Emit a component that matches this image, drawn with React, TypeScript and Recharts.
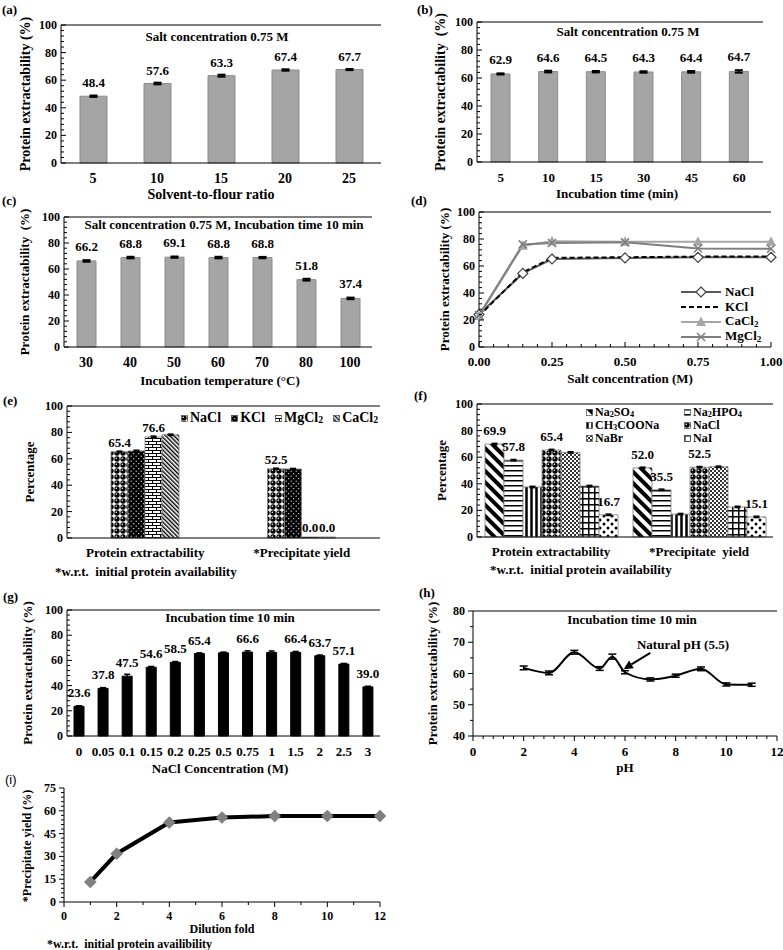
import React from 'react';
import { BarChart, Bar, LineChart, Line, XAxis, YAxis, ErrorBar, LabelList, Legend, ReferenceLine } from 'recharts';

const FONT = '"Liberation Serif", "Times New Roman", Times, serif';
const BOLD: React.CSSProperties = { fontFamily: FONT, fontWeight: 700 };
const AX = { stroke: '#000', strokeWidth: 1 };

// ---------- (a) solvent-to-flour ratio ----------
const ratioCats = ['5', '10', '15', '20', '25'];
const ratioVals = [48.4, 57.6, 63.3, 67.4, 67.7];
const ratioErr = [0.5, 0.6, 0.7, 0.5, 0.4];
// ---------- (b) incubation time ----------
const timeCats = ['5', '10', '15', '30', '45', '60'];
const timeVals = [62.9, 64.6, 64.5, 64.3, 64.4, 64.7];
const timeErr = [0.4, 0.6, 0.5, 0.5, 0.6, 0.9];
// ---------- (c) incubation temperature ----------
const tempCats = ['30', '40', '50', '60', '70', '80', '100'];
const tempVals = [66.2, 68.8, 69.1, 68.8, 68.8, 51.8, 37.4];
const tempErr = [0.6, 0.6, 0.5, 0.6, 0.5, 0.7, 0.6];
// ---------- (d) salt concentration ----------
const saltConc = [0, 0.15, 0.25, 0.5, 0.75, 1.0];
const dNaCl = [24.0, 54.5, 65.2, 66.0, 66.4, 66.5];
const dKCl = [23.0, 55.3, 66.0, 66.5, 67.0, 67.0];
const dCaCl2 = [23.0, 75.0, 78.3, 78.0, 78.0, 78.0];
const dMgCl2 = [23.5, 76.0, 77.0, 77.5, 73.0, 72.8];
// ---------- (e) chloride salts ----------
const eCats = ['Protein extractability', '*Precipitate yield'];
const eNaCl = [65.4, 52.5];
const eKCl = [66.0, 52.3];
const eMgCl2 = [76.6, 0.0];
const eCaCl2 = [78.2, 0.0];
const eNaClErr = [0.4, 0.4];
const eKClErr = [0.5, 0.4];
const eMgCl2Err = [0.6, 0];
const eCaCl2Err = [0.5, 0];
const eNaClShow = [true, true];
const eKClShow = [false, false];
const eMgCl2Show = [true, true];
const eCaCl2Show = [false, true];
// ---------- (f) sodium salts ----------
const fCats = ['Protein extractability', '*Precipitate  yield'];
const fNa2SO4 = [69.9, 52.0];
const fNa2HPO4 = [57.8, 35.5];
const fCH3COONa = [37.6, 17.2];
const fNaCl = [65.4, 52.5];
const fNaBr = [63.6, 52.8];
const fNaI = [38.3, 22.6];
const fOther = [16.7, 15.1];
const fErr = [0.5, 0.5];
const fShowBoth = [true, true];
const fShowNone = [false, false];
// ---------- (g) NaCl concentration ----------
const gCats = ['0', '0.05', '0.1', '0.15', '0.2', '0.25', '0.5', '0.75', '1', '1.5', '2', '2.5', '3'];
const gVals = [23.6, 37.8, 47.5, 54.6, 58.5, 65.4, 66.0, 66.6, 66.3, 66.4, 63.7, 57.1, 39.0];
const gErr = [0.4, 0.6, 1.5, 0.6, 0.6, 0.6, 0.6, 1.0, 1.2, 0.7, 0.6, 0.5, 0.5];
const gShow = [true, true, true, true, true, true, false, true, false, true, true, true, true];
// ---------- (h) pH ----------
const pHs = [2, 3, 4, 5, 5.5, 6, 7, 8, 9, 10, 11];
const pHVals = [61.8, 60.2, 66.8, 61.6, 65.4, 60.4, 58.1, 59.3, 61.5, 56.5, 56.4];
const pHErr = [0.6, 0.6, 0.6, 0.6, 0.8, 0.5, 0.5, 0.5, 0.6, 0.5, 0.5];
const arrowFrom = { x: 7.0, y: 66.6 };
const arrowTo = { x: 5.95, y: 61.4 };
// ---------- (i) dilution ----------
const dilFold = [1, 2, 4, 6, 8, 10, 12];
const dilVals = [13.2, 31.8, 52.3, 55.6, 56.5, 56.6, 56.6];

// ---------- helpers ----------
type Box = { x: number; y: number; w: number; h: number };
type Plot = { l: number; r: number; t: number; b: number };
const mk = (box: Box, plot: Plot, yw: number, xh: number) => ({
  top: plot.t - box.y,
  left: plot.l - box.x - yw,
  right: box.x + box.w - plot.r,
  bottom: box.y + box.h - plot.b - xh,
});
function range(a: number, b: number, step: number): number[] {
  const out: number[] = [];
  const n = Math.round((b - a) / step);
  for (let i = 0; i <= n; i++) out.push(Math.round((a + i * step) * 1000) / 1000);
  return out;
}
const isIn = (v: number, arr: number[]) => arr.some((m) => Math.abs(m - v) < 1e-6);

function yTick(majors: number[], fs: number, inside: boolean, fmt = (v: number) => String(v)) {
  return (p: any) => {
    const { x, y, payload } = p;
    const v = payload.value;
    const major = isIn(v, majors);
    const len = major ? 5 : 3;
    const dir = inside ? 1 : -1;
    return (
      <g>
        <line x1={x} y1={y} x2={x + dir * len} y2={y} stroke="#000" strokeWidth={1} />
        {major && (
          <text x={x - (inside ? 4 : len + 3)} y={y} dy="0.34em" textAnchor="end" fontSize={fs} fill="#000" style={BOLD}>
            {fmt(v)}
          </text>
        )}
      </g>
    );
  };
}
function xNumTick(majors: number[], fs: number, dy: number, inside: boolean, fmt: (v: number) => string) {
  return (p: any) => {
    const { x, y, payload } = p;
    const v = payload.value;
    const major = isIn(v, majors);
    const len = major ? 5 : 3;
    const dir = inside ? -1 : 1;
    return (
      <g>
        <line x1={x} y1={y} x2={x} y2={y + dir * len} stroke="#000" strokeWidth={1} />
        {major && (
          <text x={x} y={y + dy} textAnchor="middle" fontSize={fs} fill="#000" style={BOLD}>
            {fmt(v)}
          </text>
        )}
      </g>
    );
  };
}
function xCatTick(fs: number, dy: number) {
  return (p: any) => (
    <text x={p.x} y={p.y + dy} textAnchor="middle" fontSize={fs} fill="#000" style={{ ...BOLD, whiteSpace: 'pre' }}>
      {p.payload.value}
    </text>
  );
}
function barLabel(show: boolean[] | null, fs: number, gap: number) {
  return (p: any) => {
    const vb = p.viewBox || {};
    const x = p.x ?? vb.x;
    const y = p.y ?? vb.y;
    const w = p.width ?? vb.width ?? 0;
    const idx = p.index;
    if (show && !show[idx]) return null;
    return (
      <text key={idx} x={x + w / 2} y={y - gap} textAnchor="middle" fontSize={fs} fill="#000" style={BOLD}>
        {Number(p.value).toFixed(1)}
      </text>
    );
  };
}
const YTitle = ({ text, cx, cy, fs }: { text: string; cx: number; cy: number; fs: number }) => (
  <text x={cx} y={cy} dy="0.33em" transform={`rotate(-90 ${cx} ${cy})`} textAnchor="middle" fontSize={fs} fill="#000" style={{ ...BOLD, whiteSpace: 'pre' }}>
    {text}
  </text>
);
const TText = ({ text, x, y, fs, anchor = 'middle' }: { text: string; x: number; y: number; fs: number; anchor?: any }) => (
  <text x={x} y={y} textAnchor={anchor} fontSize={fs} fill="#000" style={{ ...BOLD, whiteSpace: 'pre' }}>
    {text}
  </text>
);
const chem = (s: string) =>
  s
    .split(/(\d+)/)
    .filter(Boolean)
    .map((part, i) =>
      /^\d+$/.test(part) ? (
        <span key={i} style={{ fontSize: '0.7em', position: 'relative', top: '0.22em' }}>
          {part}
        </span>
      ) : (
        <React.Fragment key={i}>{part}</React.Fragment>
      )
    );

const Y100 = range(0, 100, 4);
const Y100_MAJ = [0, 20, 40, 60, 80, 100];

// ---------- patterns ----------
const PatternDefs = () => (
  <defs>
    <pattern id="pat-sphere" width="6" height="6" patternUnits="userSpaceOnUse">
      <rect width="6" height="6" fill="#fff" />
      <circle cx="3" cy="3" r="2.7" fill="#000" />
      <circle cx="2.3" cy="2.3" r="0.8" fill="#fff" />
    </pattern>
    <pattern id="pat-blackdots" width="5" height="5" patternUnits="userSpaceOnUse">
      <rect width="5" height="5" fill="#000" />
      <circle cx="1.2" cy="1.2" r="0.6" fill="#fff" />
      <circle cx="3.7" cy="3.7" r="0.6" fill="#fff" />
    </pattern>
    <pattern id="pat-brick" width="8" height="6" patternUnits="userSpaceOnUse">
      <rect width="8" height="6" fill="#fff" />
      <path d="M0 0.5H8M0 3.5H8M0.5 0.5V3.5M4.5 3.5V6" stroke="#000" strokeWidth="1" />
    </pattern>
    <pattern id="pat-diag-thin" width="3" height="3" patternUnits="userSpaceOnUse" patternTransform="rotate(-45)">
      <rect width="3" height="3" fill="#fff" />
      <line x1="0.7" y1="0" x2="0.7" y2="3" stroke="#000" strokeWidth="1.4" />
    </pattern>
    <pattern id="pat-diag-wide" width="8" height="8" patternUnits="userSpaceOnUse" patternTransform="rotate(-45)">
      <rect width="8" height="8" fill="#fff" />
      <line x1="2" y1="0" x2="2" y2="8" stroke="#000" strokeWidth="4" />
    </pattern>
    <pattern id="pat-horiz" width="5" height="5" patternUnits="userSpaceOnUse">
      <rect width="5" height="5" fill="#fff" />
      <line x1="0" y1="0.75" x2="5" y2="0.75" stroke="#000" strokeWidth="1.5" />
    </pattern>
    <pattern id="pat-vert" width="5" height="5" patternUnits="userSpaceOnUse">
      <rect width="5" height="5" fill="#fff" />
      <line x1="1.5" y1="0" x2="1.5" y2="5" stroke="#000" strokeWidth="2.5" />
    </pattern>
    <pattern id="pat-check" width="4" height="4" patternUnits="userSpaceOnUse">
      <rect width="4" height="4" fill="#fff" />
      <rect x="0" y="0" width="2" height="2" fill="#333" />
      <rect x="2" y="2" width="2" height="2" fill="#333" />
    </pattern>
    <pattern id="pat-grid" width="6" height="6" patternUnits="userSpaceOnUse">
      <rect width="6" height="6" fill="#fff" />
      <path d="M0 0.75H6M0.75 0V6" stroke="#000" strokeWidth="1.5" />
    </pattern>
    <pattern id="pat-bigdots" width="8" height="8" patternUnits="userSpaceOnUse">
      <rect width="8" height="8" fill="#fff" />
      <circle cx="2" cy="2" r="1.5" fill="#000" />
      <circle cx="6" cy="6" r="1.5" fill="#000" />
    </pattern>
  </defs>
);

// ---------- simple grey/black bar panel ----------
type SBP = {
  box: Box; plot: Plot; cats: string[]; vals: number[]; errs: number[]; show?: boolean[];
  barSize: number; fill: string; stroke: string; errW: number; errSW: number;
  xtickFs: number; xtickDy: number; labelFs: number; labelGap: number;
  title?: { text: string; x: number; y: number };
  ytitle: { text: string; x: number; fs: number };
  xtitle: { text: string; x: number; y: number; fs: number };
};
function SimpleBarPanel(p: SBP) {
  const { box, plot } = p;
  const yw = 40, xh = 30;
  const data = p.cats.map((c, i) => ({ cat: c, v: p.vals[i], e: p.errs[i] }));
  const ox = box.x, oy = box.y;
  return (
    <div style={{ position: 'absolute', left: box.x, top: box.y }}>
      <BarChart width={box.w} height={box.h} data={data} margin={mk(box, plot, yw, xh)}>
        <XAxis dataKey="cat" height={xh} interval={0} tickSize={0} tickMargin={0} tickLine={false} axisLine={AX} tick={xCatTick(p.xtickFs, p.xtickDy)} />
        <YAxis width={yw} domain={[0, 100]} ticks={Y100} interval={0} tickSize={0} tickMargin={0} tickLine={false} axisLine={AX} tick={yTick(Y100_MAJ, 12, true)} />
        <YAxis yAxisId="r" orientation="right" width={0} tick={false} tickLine={false} axisLine={AX} />
        <ReferenceLine y={100} stroke="#000" strokeWidth={1} />
        <Bar dataKey="v" fill={p.fill} stroke={p.stroke} strokeWidth={1} barSize={p.barSize} isAnimationActive={false}>
          <ErrorBar dataKey="e" width={p.errW} strokeWidth={p.errSW} stroke="#000" direction="y" />
          <LabelList dataKey="v" content={barLabel(p.show ?? null, p.labelFs, p.labelGap)} />
        </Bar>
        {p.title && <TText text={p.title.text} x={p.title.x - ox} y={p.title.y - oy} fs={13} />}
        <YTitle text={p.ytitle.text} cx={p.ytitle.x - ox} cy={(plot.t + plot.b) / 2 - oy} fs={p.ytitle.fs} />
        <TText text={p.xtitle.text} x={p.xtitle.x - ox} y={p.xtitle.y - oy} fs={p.xtitle.fs} />
      </BarChart>
    </div>
  );
}

// ---------- (d) ----------
const dSeries = [
  { key: 'NaCl', vals: dNaCl, color: '#595959', dash: undefined as string | undefined, marker: 'diamond' },
  { key: 'KCl', vals: dKCl, color: '#000000', dash: '5 3', marker: 'none' },
  { key: 'CaCl2', vals: dCaCl2, color: '#a6a6a6', dash: undefined, marker: 'triangle' },
  { key: 'MgCl2', vals: dMgCl2, color: '#7f7f7f', dash: undefined, marker: 'x' },
];
function marker(kind: string, cx: number, cy: number, key?: any) {
  if (cx == null || cy == null) return <g key={key} />;
  switch (kind) {
    case 'diamond':
      return <polygon key={key} points={`${cx},${cy - 5} ${cx + 5},${cy} ${cx},${cy + 5} ${cx - 5},${cy}`} fill="#fff" stroke="#404040" strokeWidth={1.2} />;
    case 'triangle':
      return <polygon key={key} points={`${cx},${cy - 5.5} ${cx + 5},${cy + 4} ${cx - 5},${cy + 4}`} fill="#a6a6a6" />;
    case 'x':
      return <path key={key} d={`M${cx - 4},${cy - 4}L${cx + 4},${cy + 4}M${cx - 4},${cy + 4}L${cx + 4},${cy - 4}`} stroke="#7f7f7f" strokeWidth={1.6} />;
    default:
      return <g key={key} />;
  }
}
const dLegend = (props: any) => {
  const names = new Set((props.payload || []).map((it: any) => String(it.value)));
  return (
    <div style={{ ...BOLD, fontSize: 13, lineHeight: '15px' }}>
      {dSeries.filter((s) => names.size === 0 || names.has(s.key)).map((s) => (
        <div key={s.key} style={{ display: 'flex', alignItems: 'center', height: 15, whiteSpace: 'nowrap' }}>
          <svg width={42} height={14} style={{ marginRight: 3 }}>
            <line x1={1} x2={41} y1={7} y2={7} stroke={s.color} strokeWidth={2} strokeDasharray={s.dash} />
            {marker(s.marker, 21, 7)}
          </svg>
          <span>{chem(s.key)}</span>
        </div>
      ))}
    </div>
  );
};
function PanelD() {
  const box = { x: 390, y: 195, w: 393, h: 200 };
  const plot = { l: 479, r: 771, t: 212, b: 347 };
  const yw = 40, xh = 30;
  const data = saltConc.map((x, i) => {
    const row: any = { x };
    dSeries.forEach((s) => (row[s.key] = s.vals[i]));
    return row;
  });
  const ox = box.x, oy = box.y;
  return (
    <div style={{ position: 'absolute', left: box.x, top: box.y }}>
      <LineChart width={box.w} height={box.h} data={data} margin={mk(box, plot, yw, xh)}>
        <XAxis dataKey="x" type="number" domain={[0, 1]} ticks={range(0, 1, 0.05)} interval={0} height={xh} tickSize={0} tickMargin={0} tickLine={false} axisLine={AX}
          tick={xNumTick([0, 0.25, 0.5, 0.75, 1], 13, 18.5, true, (v) => v.toFixed(2))} />
        <YAxis width={yw} domain={[0, 100]} ticks={Y100} interval={0} tickSize={0} tickMargin={0} tickLine={false} axisLine={AX} tick={yTick(Y100_MAJ, 12, true)} />
        <YAxis yAxisId="r" orientation="right" width={0} tick={false} tickLine={false} axisLine={AX} />
        <ReferenceLine y={100} stroke="#000" strokeWidth={1} />
        {dSeries.map((s) => (
          <Line key={s.key} dataKey={s.key} name={s.key} type="linear" stroke={s.color} strokeWidth={2} strokeDasharray={s.dash} isAnimationActive={false}
            dot={s.marker === 'none' ? false : (pp: any) => marker(s.marker, pp.cx, pp.cy, pp.index)} activeDot={false} />
        ))}
        <Legend layout="vertical" align="center" verticalAlign="middle" content={dLegend}
          wrapperStyle={{ left: 680 - ox, top: 284 - oy, right: 'auto', bottom: 'auto', width: 'auto', height: 'auto' }} />
        <YTitle text="Protein extractability (%)" cx={445 - ox} cy={(plot.t + plot.b) / 2 - oy} fs={13} />
        <TText text="Salt concentration (M)" x={630 - ox} y={382.5 - oy} fs={13} />
      </LineChart>
    </div>
  );
}

// ---------- (e) ----------
const eSeries = [
  { key: 'NaCl', vals: eNaCl, err: eNaClErr, show: eNaClShow, fill: 'url(#pat-sphere)' },
  { key: 'KCl', vals: eKCl, err: eKClErr, show: eKClShow, fill: 'url(#pat-blackdots)' },
  { key: 'MgCl2', vals: eMgCl2, err: eMgCl2Err, show: eMgCl2Show, fill: 'url(#pat-brick)' },
  { key: 'CaCl2', vals: eCaCl2, err: eCaCl2Err, show: eCaCl2Show, fill: 'url(#pat-diag-thin)' },
];
const eLegend = (props: any) => {
  const names = new Set((props.payload || []).map((it: any) => String(it.value)));
  return (
    <div style={{ display: 'flex', alignItems: 'center', ...BOLD, fontSize: 14, lineHeight: '14px', whiteSpace: 'nowrap' }}>
      {eSeries.filter((s) => names.size === 0 || names.has(s.key)).map((s) => (
        <span key={s.key} style={{ display: 'inline-flex', alignItems: 'center', marginRight: 10 }}>
          <svg width={7} height={7} style={{ marginRight: 2 }}>
            <rect x={0.5} y={0.5} width={6} height={6} fill={s.fill} stroke="#333" strokeWidth={0.6} />
          </svg>
          {chem(s.key)}
        </span>
      ))}
    </div>
  );
};
function PanelE() {
  const box = { x: 0, y: 390, w: 390, h: 195 };
  const plot = { l: 67, r: 380, t: 406, b: 538 };
  const yw = 40, xh = 30;
  const data = eCats.map((c, i) => {
    const row: any = { cat: c };
    eSeries.forEach((s) => {
      row[s.key] = s.vals[i];
      row[s.key + '_e'] = s.err[i];
    });
    return row;
  });
  const ox = box.x, oy = box.y;
  return (
    <div style={{ position: 'absolute', left: box.x, top: box.y }}>
      <BarChart width={box.w} height={box.h} data={data} margin={mk(box, plot, yw, xh)} barGap={0}>
        <XAxis dataKey="cat" height={xh} interval={0} tickSize={0} tickMargin={0} tickLine={false} axisLine={AX} tick={xCatTick(13, 19)} />
        <YAxis width={yw} domain={[0, 100]} ticks={Y100} interval={0} tickSize={0} tickMargin={0} tickLine={false} axisLine={AX} tick={yTick(Y100_MAJ, 12, true)} />
        <YAxis yAxisId="r" orientation="right" width={0} tick={false} tickLine={false} axisLine={AX} />
        <ReferenceLine y={100} stroke="#000" strokeWidth={1} />
        {eSeries.map((s) => (
          <Bar key={s.key} dataKey={s.key} name={s.key} fill={s.fill} stroke="#7f7f7f" strokeWidth={0.8} barSize={17} minPointSize={1} isAnimationActive={false}>
            <ErrorBar dataKey={s.key + '_e'} width={3} strokeWidth={1.5} stroke="#000" direction="y" />
            <LabelList dataKey={s.key} content={barLabel(s.show, 13, 5)} />
          </Bar>
        ))}
        <Legend layout="vertical" align="center" verticalAlign="middle" content={eLegend}
          wrapperStyle={{ left: 181 - ox, top: 411 - oy, right: 'auto', bottom: 'auto', width: 'auto', height: 'auto' }} />
        <YTitle text="Percentage" cx={30 - ox} cy={(plot.t + plot.b) / 2 - oy} fs={13} />
        <TText text="*w.r.t.  initial protein availability" x={55 - ox} y={576 - oy} fs={13} anchor="start" />
      </BarChart>
    </div>
  );
}

// ---------- (f) ----------
const fSeries = [
  { key: 'Na2SO4', vals: fNa2SO4, show: fShowBoth, fill: 'url(#pat-diag-wide)', legend: true },
  { key: 'Na2HPO4', vals: fNa2HPO4, show: fShowBoth, fill: 'url(#pat-horiz)', legend: true },
  { key: 'CH3COONa', vals: fCH3COONa, show: fShowNone, fill: 'url(#pat-vert)', legend: true },
  { key: 'NaCl', vals: fNaCl, show: fShowBoth, fill: 'url(#pat-sphere)', legend: true },
  { key: 'NaBr', vals: fNaBr, show: fShowNone, fill: 'url(#pat-check)', legend: true },
  { key: 'NaI', vals: fNaI, show: fShowNone, fill: 'url(#pat-grid)', legend: true },
  { key: 'Other', vals: fOther, show: fShowBoth, fill: 'url(#pat-bigdots)', legend: false },
];
const fLegend = (props: any) => {
  const names = new Set((props.payload || []).map((it: any) => String(it.value)));
  return (
    <div style={{ display: 'grid', gridTemplateColumns: '98px 90px', ...BOLD, fontSize: 12, lineHeight: '13px', whiteSpace: 'nowrap' }}>
      {fSeries.filter((s) => s.legend && (names.size === 0 || names.has(s.key))).map((s) => (
        <span key={s.key} style={{ display: 'inline-flex', alignItems: 'center', height: 13 }}>
          <svg width={7} height={7} style={{ marginRight: 2 }}>
            <rect x={0.5} y={0.5} width={6} height={6} fill={s.fill} stroke="#333" strokeWidth={0.6} />
          </svg>
          {chem(s.key)}
        </span>
      ))}
    </div>
  );
};
function PanelF() {
  const box = { x: 390, y: 390, w: 393, h: 195 };
  const plot = { l: 477, r: 773, t: 404, b: 537 };
  const yw = 40, xh = 30;
  const data = fCats.map((c, i) => {
    const row: any = { cat: c };
    fSeries.forEach((s) => {
      row[s.key] = s.vals[i];
      row[s.key + '_e'] = fErr[i];
    });
    return row;
  });
  const ox = box.x, oy = box.y;
  return (
    <div style={{ position: 'absolute', left: box.x, top: box.y }}>
      <BarChart width={box.w} height={box.h} data={data} margin={mk(box, plot, yw, xh)} barGap={0}>
        <XAxis dataKey="cat" height={xh} interval={0} tickSize={0} tickMargin={0} tickLine={false} axisLine={AX} tick={xCatTick(13, 19)} />
        <YAxis width={yw} domain={[0, 100]} ticks={Y100} interval={0} tickSize={0} tickMargin={0} tickLine={false} axisLine={AX} tick={yTick(Y100_MAJ, 12, true)} />
        <YAxis yAxisId="r" orientation="right" width={0} tick={false} tickLine={false} axisLine={AX} />
        <ReferenceLine y={100} stroke="#000" strokeWidth={1} />
        {fSeries.map((s) => (
          <Bar key={s.key} dataKey={s.key} name={s.key} fill={s.fill} stroke="#7f7f7f" strokeWidth={0.8} barSize={19} isAnimationActive={false}
            legendType={s.legend ? 'square' : 'none'}>
            <ErrorBar dataKey={s.key + '_e'} width={3} strokeWidth={1.5} stroke="#000" direction="y" />
            <LabelList dataKey={s.key} content={barLabel(s.show, 13, 9)} />
          </Bar>
        ))}
        <Legend layout="vertical" align="center" verticalAlign="middle" content={fLegend}
          wrapperStyle={{ left: 586 - ox, top: 406 - oy, right: 'auto', bottom: 'auto', width: 'auto', height: 'auto' }} />
        <YTitle text="Percentage" cx={442 - ox} cy={(plot.t + plot.b) / 2 - oy} fs={13} />
        <TText text="*w.r.t.  initial protein availability" x={490 - ox} y={574 - oy} fs={13} anchor="start" />
      </BarChart>
    </div>
  );
}

// ---------- (h) ----------
const arrowShape = (p: any) => {
  const { x1, y1, x2, y2 } = p;
  const a = Math.atan2(y2 - y1, x2 - x1);
  const L = 9, W = 4.5;
  const bx = x2 - L * Math.cos(a), by = y2 - L * Math.sin(a);
  const pts = `${x2},${y2} ${bx + W * Math.sin(a)},${by - W * Math.cos(a)} ${bx - W * Math.sin(a)},${by + W * Math.cos(a)}`;
  return (
    <g>
      <line x1={x1} y1={y1} x2={bx} y2={by} stroke="#000" strokeWidth={2} />
      <polygon points={pts} fill="#000" />
    </g>
  );
};
function PanelH() {
  const box = { x: 390, y: 585, w: 393, h: 195 };
  const plot = { l: 473, r: 777, t: 611, b: 736 };
  const yw = 40, xh = 30;
  const data = pHs.map((x, i) => ({ x, v: pHVals[i], e: pHErr[i] }));
  const ox = box.x, oy = box.y;
  return (
    <div style={{ position: 'absolute', left: box.x, top: box.y }}>
      <LineChart width={box.w} height={box.h} data={data} margin={mk(box, plot, yw, xh)}>
        <XAxis dataKey="x" type="number" domain={[0, 12]} ticks={range(0, 12, 0.4)} interval={0} height={xh} tickSize={0} tickMargin={0} tickLine={false} axisLine={AX}
          tick={xNumTick(range(0, 12, 2), 13, 19.5, false, (v) => String(v))} />
        <YAxis width={yw} domain={[40, 80]} ticks={range(40, 80, 5)} interval={0} tickSize={0} tickMargin={0} tickLine={false} axisLine={AX} tick={yTick(range(40, 80, 10), 12, false)} />
        <YAxis yAxisId="r" orientation="right" width={0} tick={false} tickLine={false} axisLine={AX} />
        <ReferenceLine y={80} stroke="#000" strokeWidth={1} />
        <Line dataKey="v" type="monotone" stroke="#000" strokeWidth={2} dot={false} activeDot={false} isAnimationActive={false}>
          <ErrorBar dataKey="e" width={4} strokeWidth={1.5} stroke="#000" direction="y" />
        </Line>
        <ReferenceLine segment={[arrowFrom, arrowTo]} shape={arrowShape} />
        <TText text="Incubation time 10 min" x={632 - ox} y={624 - oy} fs={13} />
        <TText text="Natural pH (5.5)" x={683 - ox} y={649 - oy} fs={13} />
        <YTitle text="Protein extractability (%)" cx={433 - ox} cy={(plot.t + plot.b) / 2 - oy} fs={13} />
        <TText text="pH" x={625 - ox} y={772 - oy} fs={13} />
      </LineChart>
    </div>
  );
}

// ---------- (i) ----------
function PanelI() {
  const box = { x: 0, y: 775, w: 390, h: 175 };
  const plot = { l: 64, r: 380, t: 788, b: 902 };
  const yw = 40, xh = 30;
  const data = dilFold.map((x, i) => ({ x, v: dilVals[i] }));
  const ox = box.x, oy = box.y;
  const diamond = (pp: any) => {
    const { cx, cy, index } = pp;
    if (cx == null || cy == null) return <g key={index} />;
    return <polygon key={index} points={`${cx},${cy - 6} ${cx + 6},${cy} ${cx},${cy + 6} ${cx - 6},${cy}`} fill="#808080" stroke="#6f6f6f" strokeWidth={0.5} />;
  };
  return (
    <div style={{ position: 'absolute', left: box.x, top: box.y }}>
      <LineChart width={box.w} height={box.h} data={data} margin={mk(box, plot, yw, xh)}>
        <XAxis dataKey="x" type="number" domain={[0, 12]} ticks={range(0, 12, 1)} interval={0} height={xh} tickSize={0} tickMargin={0} tickLine={false} axisLine={AX}
          tick={xNumTick(range(0, 12, 2), 12, 17.5, false, (v) => String(v))} />
        <YAxis width={yw} domain={[0, 75]} ticks={range(0, 75, 3)} interval={0} tickSize={0} tickMargin={0} tickLine={false} axisLine={AX} tick={yTick(range(0, 75, 15), 12, false)} />
        <Line dataKey="v" type="linear" stroke="#000" strokeWidth={4} dot={diamond} activeDot={false} isAnimationActive={false} />
        <YTitle text="*Precipitate yield (%)" cx={27 - ox} cy={846 - oy} fs={12} />
        <TText text="Dilution fold" x={222 - ox} y={933 - oy} fs={12} />
        <TText text="*w.r.t.  initial protein availibility" x={47 - ox} y={948 - oy} fs={12} anchor="start" />
      </LineChart>
    </div>
  );
}

const letters = [
  { t: '(a)', x: 2, y: 10 },
  { t: '(b)', x: 417, y: 10 },
  { t: '(c)', x: 2, y: 201 },
  { t: '(d)', x: 411, y: 201 },
  { t: '(e)', x: 3, y: 401 },
  { t: '(f)', x: 414, y: 396 },
  { t: '(g)', x: 3, y: 597 },
  { t: '(h)', x: 419, y: 593 },
];

export default function App() {
  return (
    <div style={{ position: 'absolute', left: 0, top: 0, width: 783, height: 950, background: '#fff', overflow: 'hidden' }}>
      <svg width={0} height={0} style={{ position: 'absolute' }}>
        <PatternDefs />
      </svg>
      <SimpleBarPanel
        box={{ x: 0, y: 0, w: 390, h: 205 }} plot={{ l: 61, r: 381, t: 25, b: 163 }}
        cats={ratioCats} vals={ratioVals} errs={ratioErr} barSize={27} fill="#a5a5a5" stroke="#8c8c8c" errW={4} errSW={2}
        xtickFs={14} xtickDy={19.5} labelFs={13} labelGap={9}
        title={{ text: 'Salt concentration 0.75 M', x: 217, y: 40.5 }}
        ytitle={{ text: 'Protein extractability (%)', x: 25, fs: 14 }}
        xtitle={{ text: 'Solvent-to-flour ratio', x: 211, y: 199, fs: 14 }}
      />
      <SimpleBarPanel
        box={{ x: 390, y: 0, w: 393, h: 205 }} plot={{ l: 477, r: 763, t: 22, b: 162 }}
        cats={timeCats} vals={timeVals} errs={timeErr} barSize={19} fill="#a5a5a5" stroke="#8c8c8c" errW={4} errSW={2}
        xtickFs={13} xtickDy={19.5} labelFs={13} labelGap={10}
        title={{ text: 'Salt concentration 0.75 M', x: 628, y: 36 }}
        ytitle={{ text: 'Protein extractability  (%)', x: 440, fs: 14 }}
        xtitle={{ text: 'Incubation time (min)', x: 617, y: 197.5, fs: 13 }}
      />
      <SimpleBarPanel
        box={{ x: 0, y: 195, w: 390, h: 200 }} plot={{ l: 64, r: 372, t: 217, b: 347 }}
        cats={tempCats} vals={tempVals} errs={tempErr} barSize={19} fill="#a5a5a5" stroke="#8c8c8c" errW={4} errSW={2}
        xtickFs={14} xtickDy={19.6} labelFs={13} labelGap={10}
        title={{ text: 'Salt concentration 0.75 M, Incubation time 10 min', x: 224, y: 229 }}
        ytitle={{ text: 'Protein extractability  (%)', x: 25, fs: 13 }}
        xtitle={{ text: 'Incubation temperature (°C)', x: 220, y: 384.5, fs: 13 }}
      />
      <PanelD />
      <PanelE />
      <PanelF />
      <SimpleBarPanel
        box={{ x: 0, y: 585, w: 390, h: 195 }} plot={{ l: 67, r: 380, t: 610, b: 736 }}
        cats={gCats} vals={gVals} errs={gErr} show={gShow} barSize={10} fill="#000" stroke="#000" errW={3} errSW={1.5}
        xtickFs={13} xtickDy={19.8} labelFs={13} labelGap={9}
        title={{ text: 'Incubation time 10 min', x: 230, y: 622 }}
        ytitle={{ text: 'Protein extractability (%)', x: 28, fs: 13 }}
        xtitle={{ text: 'NaCl Concentration (M)', x: 220, y: 772.5, fs: 13 }}
      />
      <PanelH />
      <PanelI />
      {letters.map((l) => (
        <div key={l.t} style={{ position: 'absolute', left: l.x, top: l.y - 7, ...BOLD, fontSize: 13, lineHeight: '14px' }}>{l.t}</div>
      ))}
      <div style={{ position: 'absolute', left: 5, top: 773, fontFamily: '"Liberation Sans", Arial, sans-serif', fontSize: 13, lineHeight: '14px' }}>(i)</div>
    </div>
  );
}
